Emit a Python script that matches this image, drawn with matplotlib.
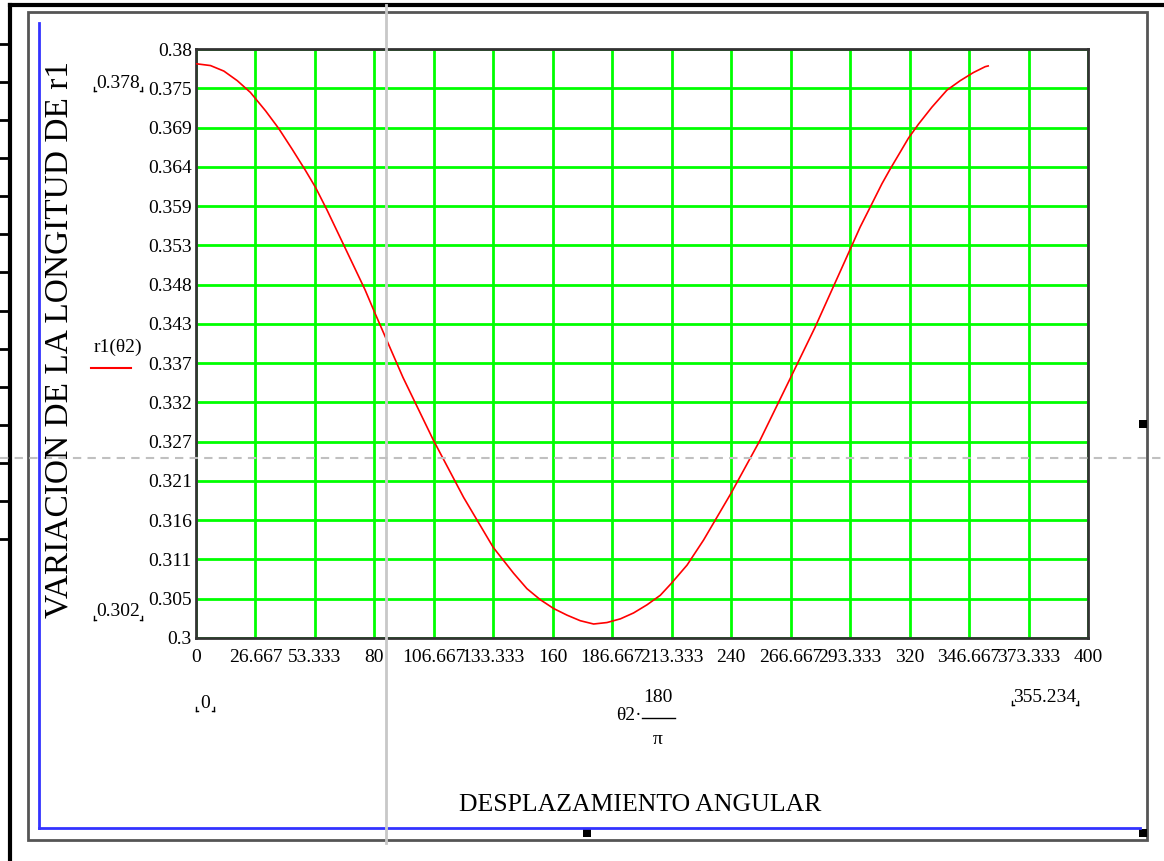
"""
Mathcad style plot: r1 vs angular displacement theta2.
"""
# ----------------------------------------------------------------
# Imports
# ----------------------------------------------------------------
import numpy as np
import matplotlib
matplotlib.use("Agg")
import matplotlib.pyplot as plt
from matplotlib.lines import Line2D
from matplotlib.patches import Rectangle
from matplotlib.transforms import Affine2D

# ----------------------------------------------------------------
# Data
# ----------------------------------------------------------------
theta_deg = [0, 6.5, 12.5, 18.5, 24.4, 31.2, 37.1, 43.1, 49.1, 53.6, 58.8, 67,
             75.8, 80, 92.8, 106.4, 120, 133.3, 142.4, 148.4, 154.4, 160.4,
             166.4, 172.3, 178.3, 184.3, 190.3, 196.2, 202.2, 208.2, 213.1,
             220.2, 227.6, 240, 253, 266.7, 277.6, 290.4, 297.8, 302.3, 307.6,
             311.3, 315.8, 319.5, 324, 330, 336.7, 342.7, 348.6, 353.9, 355.234]
r1 = [0.3780, 0.37775, 0.3770, 0.3757, 0.3741, 0.3716, 0.3692, 0.3664, 0.3635,
      0.3612, 0.3581, 0.3529, 0.3473, 0.3443, 0.3354, 0.3269, 0.3191, 0.3123,
      0.3088, 0.3067, 0.3052, 0.3040, 0.3031, 0.30235, 0.3019, 0.3021, 0.3026,
      0.3034, 0.3045, 0.3058, 0.3074, 0.3099, 0.3133, 0.3197, 0.3269, 0.3354,
      0.3422, 0.3508, 0.3558, 0.3585, 0.3617, 0.3637, 0.3660, 0.3679, 0.3698,
      0.3721, 0.3744, 0.3757, 0.3768, 0.3776, 0.3777]

x_ticks = [0, 26.667, 53.333, 80, 106.667, 133.333, 160, 186.667, 213.333,
           240, 266.667, 293.333, 320, 346.667, 373.333, 400]
x_tick_labels = ["0", "26.667", "53.333", "80", "106.667", "133.333", "160",
                 "186.667", "213.333", "240", "266.667", "293.333", "320",
                 "346.667", "373.333", "400"]
y_ticks = [0.3, 0.305333, 0.310667, 0.316, 0.321333, 0.326667, 0.332, 0.337333,
           0.342667, 0.348, 0.353333, 0.358667, 0.364, 0.369333, 0.374667, 0.38]
y_tick_labels = ["0.3", "0.305", "0.311", "0.316", "0.321", "0.327", "0.332",
                 "0.337", "0.343", "0.348", "0.353", "0.359", "0.364", "0.369",
                 "0.375", "0.38"]

# range markers shown by Mathcad
y_min_marker = "0.302"
y_max_marker = "0.378"
x_min_marker = "0"
x_max_marker = "355.234"

# ----------------------------------------------------------------
# Figure setup
# ----------------------------------------------------------------
W, H = 1164, 861
plt.rcParams["font.family"] = ["Liberation Serif", "DejaVu Serif"]

fig = plt.figure(figsize=(W / 100, H / 100), dpi=100)
fig.patch.set_facecolor("white")

# pixel coords (y down) -> figure
px = Affine2D().scale(1 / W, -1 / H).translate(0, 1) + fig.transFigure

# plot area: x 196..1088, y 49..638 (pixels)
ax = fig.add_axes([196 / W, 1 - 638 / H, (1088 - 196) / W, (638 - 49) / H])

ax.plot(theta_deg, r1, color="red", linewidth=1.2, zorder=3)

ax.set_xlim(0, 400)
ax.set_ylim(0.3, 0.38)
ax.set_xticks(x_ticks)
ax.set_xticklabels(x_tick_labels)
ax.set_yticks(y_ticks)
ax.set_yticklabels(y_tick_labels)
ax.tick_params(length=0, labelsize=14, colors="black")
ax.tick_params(axis="x", pad=8)
ax.tick_params(axis="y", pad=3)
ax.grid(True, color="#00ff00", linewidth=2)
ax.set_axisbelow(True)
for sp in ax.spines.values():
    sp.set_color("#333333")
    sp.set_linewidth(2)

# --- axis titles ---
fig.text(59, 340, "VARIACION DE LA LONGITUD DE r1", transform=px, rotation=90,
         ha="center", va="center", fontsize=24)
fig.text(640, 805, "DESPLAZAMIENTO ANGULAR", transform=px,
         ha="center", va="center", fontsize=18.5)

# --- legend ---
fig.text(118, 347, "r1(θ2)", transform=px, ha="center", va="center", fontsize=14)
fig.add_artist(Line2D([91, 131], [368, 368], color="red", linewidth=1.5, transform=px))

# --- x expression  theta2 * 180 / pi ---
fig.text(629, 716, "θ2·", transform=px, ha="center", va="center", fontsize=14)
fig.text(658, 697, "180", transform=px, ha="center", va="center", fontsize=14)
fig.add_artist(Line2D([642, 675], [718, 718], color="black", linewidth=1, transform=px))
fig.text(658, 740, "π", transform=px, ha="center", va="center", fontsize=14)

# --- range markers ---
def marker_text(x, y, s, half):
    fig.text(x, y, s, transform=px, ha="center", va="center", fontsize=14)
    for xe, d in ((x - half, 1), (x + half, -1)):
        fig.add_artist(Line2D([xe, xe], [y + 4, y + 8], color="black", linewidth=1, transform=px))
        fig.add_artist(Line2D([xe, xe + 2 * d], [y + 8, y + 8], color="black", linewidth=1, transform=px))

marker_text(118, 83, y_max_marker, 24)
marker_text(118, 612, y_min_marker, 24)
marker_text(205, 703, x_min_marker, 9)
marker_text(1045, 697, x_max_marker, 33)

# ----------------------------------------------------------------
# Worksheet decorations (frames, guides, handles)
# ----------------------------------------------------------------
def seg(xs, ys, **kw):
    fig.add_artist(Line2D(xs, ys, transform=px, **kw))

seg([10, 1164], [5, 5], color="black", linewidth=3)
seg([10, 10], [5, 861], color="black", linewidth=3)
for yy in [44, 82, 120, 158, 196, 234, 272, 311, 349, 387, 425, 463, 501, 539]:
    seg([0, 10], [yy, yy], color="black", linewidth=2)

fig.add_artist(Rectangle((28, 12), 1119, 828, transform=px, fill=False,
                         edgecolor="#555555", linewidth=2))
seg([39, 39], [23, 828], color="#3333ff", linewidth=2)
seg([39, 1140], [828, 828], color="#3333ff", linewidth=2)

seg([386, 386], [5, 843], color="#c8c8c8", linewidth=2)
seg([0, 1164], [458, 458], color="#c0c0c0", linewidth=1.5, linestyle=(0, (4, 3)))

for cx, cy in [(1143, 424), (587, 833), (1143, 833)]:
    fig.add_artist(Rectangle((cx - 4, cy - 4), 8, 8, transform=px,
                             facecolor="black", edgecolor="none"))

# ----------------------------------------------------------------
# Save
# ----------------------------------------------------------------
fig.savefig("out.png", dpi=100)
plt.close(fig)
